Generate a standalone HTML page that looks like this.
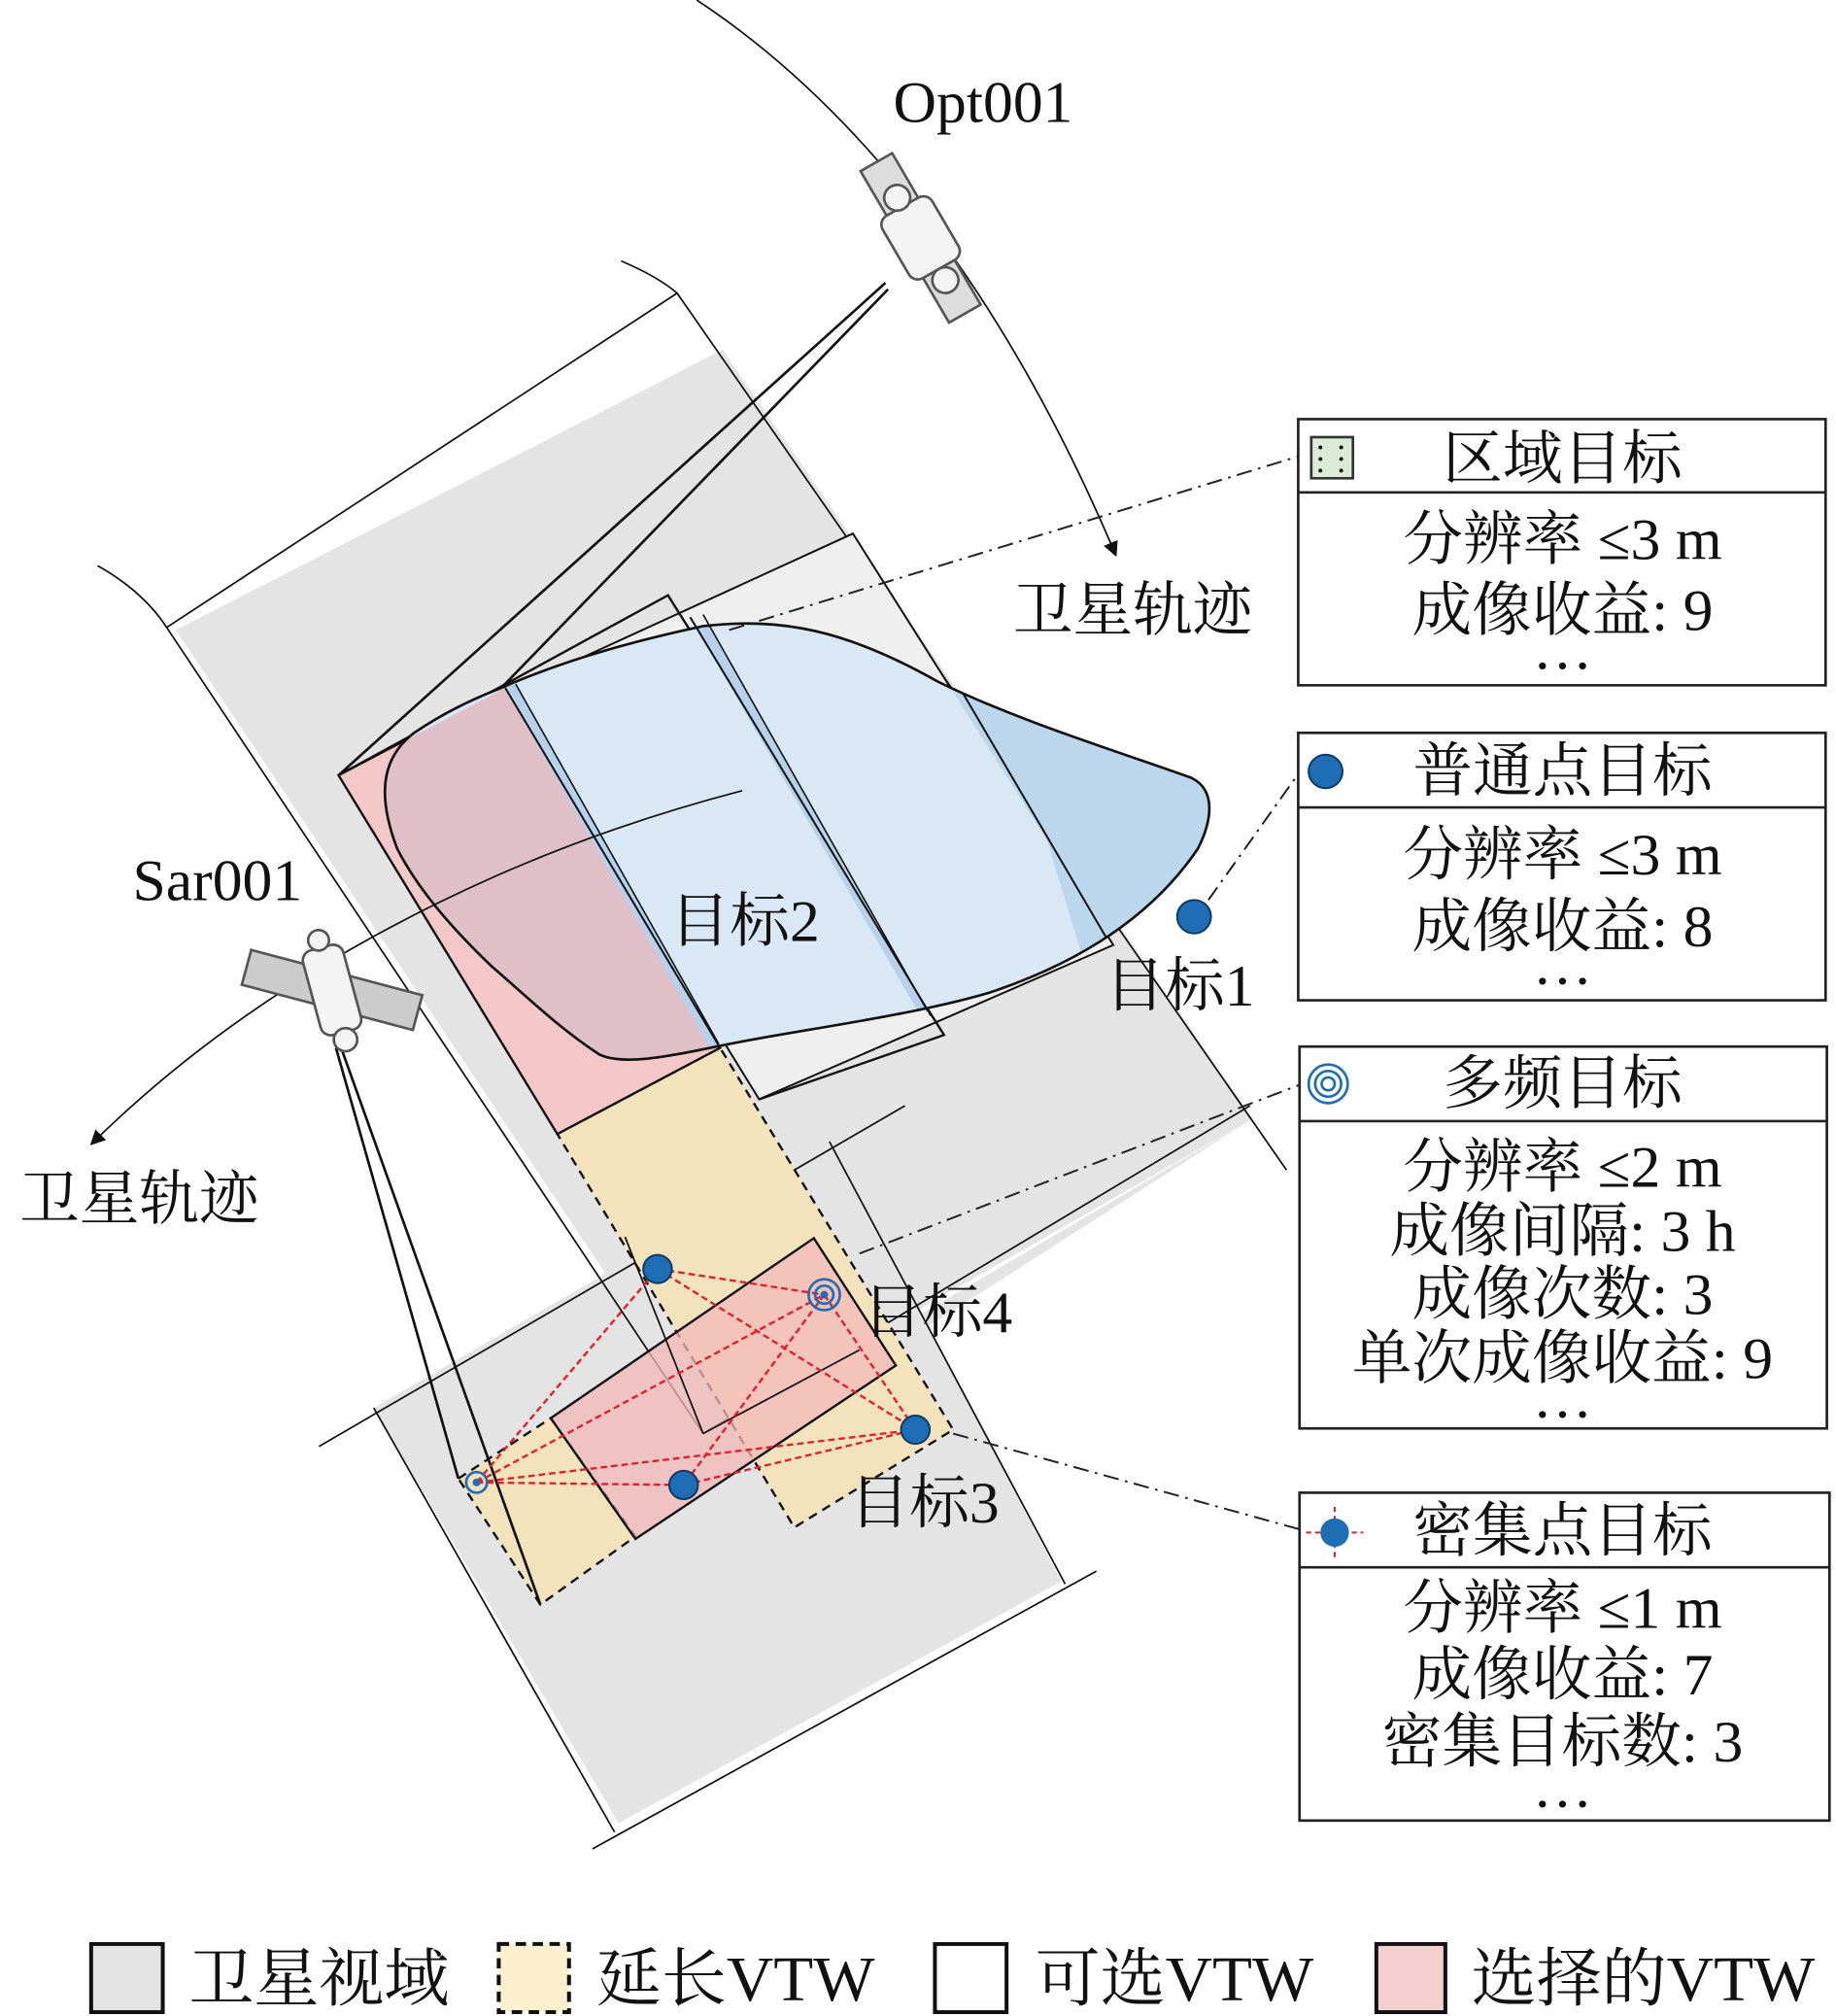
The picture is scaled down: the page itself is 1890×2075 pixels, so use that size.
<!DOCTYPE html>
<html><head><meta charset="utf-8"><style>
html,body{margin:0;padding:0;background:#fff;}
svg{display:block;}
text{font-family:"Liberation Serif","Noto Serif CJK SC",serif;fill:#111;}
</style></head><body>
<svg width="1890" height="2075" viewBox="0 0 1410 1568" preserveAspectRatio="none" xmlns="http://www.w3.org/2000/svg">
<defs>
<marker id="ar" viewBox="0 0 10 10" refX="9" refY="5" markerWidth="9" markerHeight="9" orient="auto"><path d="M0,0 L10,5 L0,10 z" fill="#111"/></marker>
<clipPath id="blob"><path d="M385,535 C430,515 480,500 540,487 C600,480 650,490 720,530 C780,560 860,585 915,605 C935,615 930,640 920,660 C890,705 840,745 760,772 C700,790 620,800 560,812 C520,820 480,830 460,820 C430,800 410,780 378,752 C345,720 320,690 305,660 C290,620 292,590 318,570 C340,555 360,545 385,535 Z"/></clipPath>
</defs>
<!-- grey swaths -->
<polygon points="135,490 555,272 962,870 545,1112" fill="#e4e4e4"/>
<polygon points="287,1095 640,888 815,1230 475,1418" fill="#e4e4e4"/>
<polygon points="560,1110 962,870 700,1040" fill="#e4e4e4"/>
<!-- swath lines -->
<path d="M75,440 Q110,460 128,488" fill="none" stroke="#111" stroke-width="1.3"/>
<path d="M477,203 Q505,215 520,228" fill="none" stroke="#111" stroke-width="1.3"/>
<line x1="128" y1="488" x2="520" y2="228" stroke="#111" stroke-width="1.3"/>
<line x1="520" y1="228" x2="988" y2="910" stroke="#111" stroke-width="1.3"/>
<line x1="128" y1="488" x2="540" y2="1115" stroke="#111" stroke-width="1.3"/>
<line x1="540" y1="1115" x2="960" y2="860" stroke="#111" stroke-width="1.3"/>
<line x1="245" y1="1125" x2="695" y2="860" stroke="#111" stroke-width="1.3"/>
<line x1="287" y1="1095" x2="472" y2="1425" stroke="#111" stroke-width="1.3"/>
<line x1="637" y1="888" x2="818" y2="1232" stroke="#111" stroke-width="1.3"/>
<line x1="455" y1="1438" x2="842" y2="1222" stroke="#111" stroke-width="1.3"/>
<!-- R2 light -->
<polygon points="390,538 655,415 855,735 583,855" fill="#efefef" stroke="#111" stroke-width="1.5"/>
<!-- R1 outline -->
<polyline points="260,603 513,463 725,805 583,855" fill="none" stroke="#111" stroke-width="1.8"/>
<!-- yellow strips -->
<polygon points="428,882 553,815 732,1112 610,1188" fill="#f2e3bd" stroke="#111" stroke-width="1.8" stroke-dasharray="7,5"/>
<polygon points="352,1150 423,1103 488,1195 415,1248" fill="#f2e3bd" stroke="#111" stroke-width="1.8" stroke-dasharray="7,5"/>
<!-- pink selected -->
<polygon points="260,603 388,535 553,815 428,882" fill="#f4c8c8" stroke="#111" stroke-width="1.8"/>
<polygon points="423,1103 625,963 688,1062 488,1197" fill="#f4b8b8" fill-opacity="0.75" stroke="#111" stroke-width="1.8"/>
<line x1="540" y1="1115" x2="660" y2="1050" stroke="#111" stroke-width="1.3"/>
<line x1="480" y1="962" x2="540" y2="1115" stroke="#111" stroke-width="1.3"/>
<!-- blob -->
<g clip-path="url(#blob)">
<rect x="280" y="470" width="670" height="370" fill="#dae8f5"/>
<polygon points="260,603 388,535 553,815 428,882" fill="#dfbfc8"/>
<polygon points="740,440 1000,440 1000,840 860,840" fill="#bcd6ec"/>
<polygon points="655,415 740,430 880,760 855,735" fill="#bcd6ec"/>
<polygon points="388,535 396,532 552,812 545,815" fill="#b7d1ea"/>
<polygon points="530,480 540,478 715,790 708,792" fill="#b7d1ea"/>
</g>
<line x1="388" y1="535" x2="553" y2="815" stroke="#111" stroke-width="1.5"/>
<line x1="396" y1="532" x2="552" y2="812" stroke="#111" stroke-width="1.2"/>
<line x1="530" y1="480" x2="715" y2="790" stroke="#111" stroke-width="1.5"/>
<line x1="540" y1="478" x2="712" y2="786" stroke="#111" stroke-width="1.2"/>
<line x1="740" y1="540" x2="850" y2="730" stroke="#111" stroke-width="1.5"/>
<path d="M385,535 C430,515 480,500 540,487 C600,480 650,490 720,530 C780,560 860,585 915,605 C935,615 930,640 920,660 C890,705 840,745 760,772 C700,790 620,800 560,812 C520,820 480,830 460,820 C430,800 410,780 378,752 C345,720 320,690 305,660 C290,620 292,590 318,570 C340,555 360,545 385,535 Z" fill="none" stroke="#111" stroke-width="2"/>
<!-- Opt orbit -->
<path d="M535,0 C640,70 760,200 857,432" fill="none" stroke="#111" stroke-width="1.3" marker-end="url(#ar)"/>
<!-- Sar orbit -->
<path d="M570,615 C380,665 200,760 70,890" fill="none" stroke="#111" stroke-width="1.3" marker-end="url(#ar)"/>
<!-- beams -->
<line x1="680" y1="220" x2="260" y2="603" stroke="#111" stroke-width="2"/>
<line x1="682" y1="225" x2="385" y2="535" stroke="#111" stroke-width="2"/>
<line x1="258" y1="815" x2="352" y2="1150" stroke="#111" stroke-width="2"/>
<line x1="262" y1="815" x2="415" y2="1248" stroke="#111" stroke-width="2"/>
<!-- Opt satellite -->
<g transform="translate(707,185) rotate(-30)">
<rect x="-14" y="-68" width="28" height="136" fill="#ddd" stroke="#555" stroke-width="2"/>
<rect x="-22" y="-28" width="44" height="56" rx="8" fill="#f4f4f4" stroke="#555" stroke-width="2"/>
<circle cx="0" cy="-36" r="10" fill="#f4f4f4" stroke="#555" stroke-width="2"/>
<circle cx="0" cy="38" r="10" fill="#f4f4f4" stroke="#555" stroke-width="2"/>
</g>
<!-- Sar satellite -->
<g transform="translate(255,770) rotate(-15)">
<rect x="-68" y="-14" width="136" height="28" fill="#ccc" stroke="#555" stroke-width="2" transform="rotate(30)"/>
<rect x="-16" y="-34" width="32" height="68" rx="8" fill="#f4f4f4" stroke="#555" stroke-width="2"/>
<circle cx="0" cy="-40" r="8" fill="#f4f4f4" stroke="#555" stroke-width="2"/>
<circle cx="0" cy="40" r="9" fill="#f4f4f4" stroke="#555" stroke-width="2"/>
</g>
<!-- red dashed links -->
<g stroke="#e0202a" stroke-width="1.8" stroke-dasharray="5,3" fill="none">
<line x1="366" y1="1153" x2="505" y2="987"/><line x1="366" y1="1153" x2="633" y2="1007"/>
<line x1="366" y1="1153" x2="525" y2="1155"/><line x1="366" y1="1153" x2="703" y2="1112"/>
<line x1="505" y1="987" x2="633" y2="1007"/><line x1="505" y1="987" x2="703" y2="1112"/>
<line x1="633" y1="1007" x2="525" y2="1155"/><line x1="633" y1="1007" x2="703" y2="1112"/>
<line x1="525" y1="1155" x2="703" y2="1112"/>
</g>
<!-- dash-dot connectors -->
<g stroke="#222" stroke-width="1.5" stroke-dasharray="12,5,2,5" fill="none">
<line x1="560" y1="490" x2="997" y2="355"/>
<line x1="928" y1="700" x2="997" y2="602"/>
<line x1="660" y1="975" x2="1000" y2="843"/>
<line x1="732" y1="1115" x2="1000" y2="1190"/>
</g>
<!-- dots -->
<g fill="#1f6db5" stroke="#0d3a66" stroke-width="1.5">
<circle cx="917" cy="713" r="13"/>
<circle cx="505" cy="987" r="11"/><circle cx="703" cy="1112" r="11"/><circle cx="525" cy="1155" r="11"/>
</g>
<g fill="none" stroke="#1f6db5" stroke-width="2">
<circle cx="633" cy="1007" r="12"/><circle cx="633" cy="1007" r="7"/>
<circle cx="366" cy="1153" r="8"/>
</g>
<circle cx="633" cy="1007" r="3" fill="#1f6db5"/><circle cx="366" cy="1153" r="3" fill="#1f6db5"/>
<!-- labels -->
<g font-size="46">
<text x="755" y="95" text-anchor="middle">Opt001</text>
<text x="870" y="490" text-anchor="middle">卫星轨迹</text>
<text x="167" y="700" text-anchor="middle">Sar001</text>
<text x="107" y="948" text-anchor="middle">卫星轨迹</text>
<text x="572" y="732" text-anchor="middle">目标2</text>
<text x="906" y="782" text-anchor="middle">目标1</text>
<text x="720" y="1036" text-anchor="middle">目标4</text>
<text x="710" y="1184" text-anchor="middle">目标3</text>
</g>
<!-- boxes -->
<g fill="#fff" stroke="#222" stroke-width="2">
<rect x="997" y="326" width="405" height="207"/><line x1="997" y1="383" x2="1402" y2="383"/>
<rect x="997" y="570" width="405" height="208"/><line x1="997" y1="628" x2="1402" y2="628"/>
<rect x="998" y="814" width="405" height="297"/><line x1="998" y1="872" x2="1403" y2="872"/>
<rect x="998" y="1161" width="407" height="255"/><line x1="998" y1="1219" x2="1405" y2="1219"/>
</g>
<rect x="1007" y="340" width="32" height="32" fill="#dcebd6" stroke="#333" stroke-width="2"/>
<g fill="#111"><circle cx="1014" cy="348" r="1.5"/><circle cx="1030" cy="348" r="1.5"/><circle cx="1014" cy="357" r="1.5"/><circle cx="1030" cy="357" r="1.5"/><circle cx="1014" cy="366" r="1.5"/><circle cx="1030" cy="366" r="1.5"/></g>
<circle cx="1018" cy="600" r="13" fill="#1f6db5" stroke="#0d3a66" stroke-width="1.5"/>
<g fill="none" stroke="#1f6db5" stroke-width="2"><circle cx="1020" cy="843" r="15"/><circle cx="1020" cy="843" r="10"/><circle cx="1020" cy="843" r="5"/></g>
<line x1="1003" y1="1192" x2="1047" y2="1192" stroke="#e0202a" stroke-width="1.5" stroke-dasharray="4,3"/>
<line x1="1025" y1="1172" x2="1025" y2="1214" stroke="#e0202a" stroke-width="1.5" stroke-dasharray="4,3"/>
<circle cx="1025" cy="1192" r="11" fill="#1f6db5"/>
<g font-size="46" text-anchor="middle">
<text x="1200" y="372">区域目标</text>
<text x="1200" y="435">分辨率 ≤3 m</text>
<text x="1200" y="490">成像收益: 9</text>
<text x="1200" y="520">…</text>
<text x="1200" y="615">普通点目标</text>
<text x="1200" y="680">分辨率 ≤3 m</text>
<text x="1200" y="736">成像收益: 8</text>
<text x="1200" y="765">…</text>
<text x="1200" y="858">多频目标</text>
<text x="1200" y="923">分辨率 ≤2 m</text>
<text x="1200" y="973">成像间隔: 3 h</text>
<text x="1200" y="1022">成像次数: 3</text>
<text x="1200" y="1072">单次成像收益: 9</text>
<text x="1200" y="1102">…</text>
<text x="1200" y="1206">密集点目标</text>
<text x="1200" y="1266">分辨率 ≤1 m</text>
<text x="1200" y="1318">成像收益: 7</text>
<text x="1200" y="1370">密集目标数: 3</text>
<text x="1200" y="1405">…</text>
</g>
<!-- legend -->
<rect x="70" y="1512" width="55" height="53" fill="#e4e4e4" stroke="#111" stroke-width="3"/>
<rect x="383" y="1512" width="54" height="53" fill="#fcf0cf" stroke="#111" stroke-width="3" stroke-dasharray="8,5"/>
<rect x="718" y="1512" width="55" height="53" fill="#fff" stroke="#111" stroke-width="3"/>
<rect x="1057" y="1512" width="53" height="53" fill="#f4cfd0" stroke="#111" stroke-width="3"/>
<g font-size="50">
<text x="145" y="1556">卫星视域</text>
<text x="458" y="1556">延长VTW</text>
<text x="795" y="1556">可选VTW</text>
<text x="1130" y="1556">选择的VTW</text>
</g>
</svg>
</body></html>
